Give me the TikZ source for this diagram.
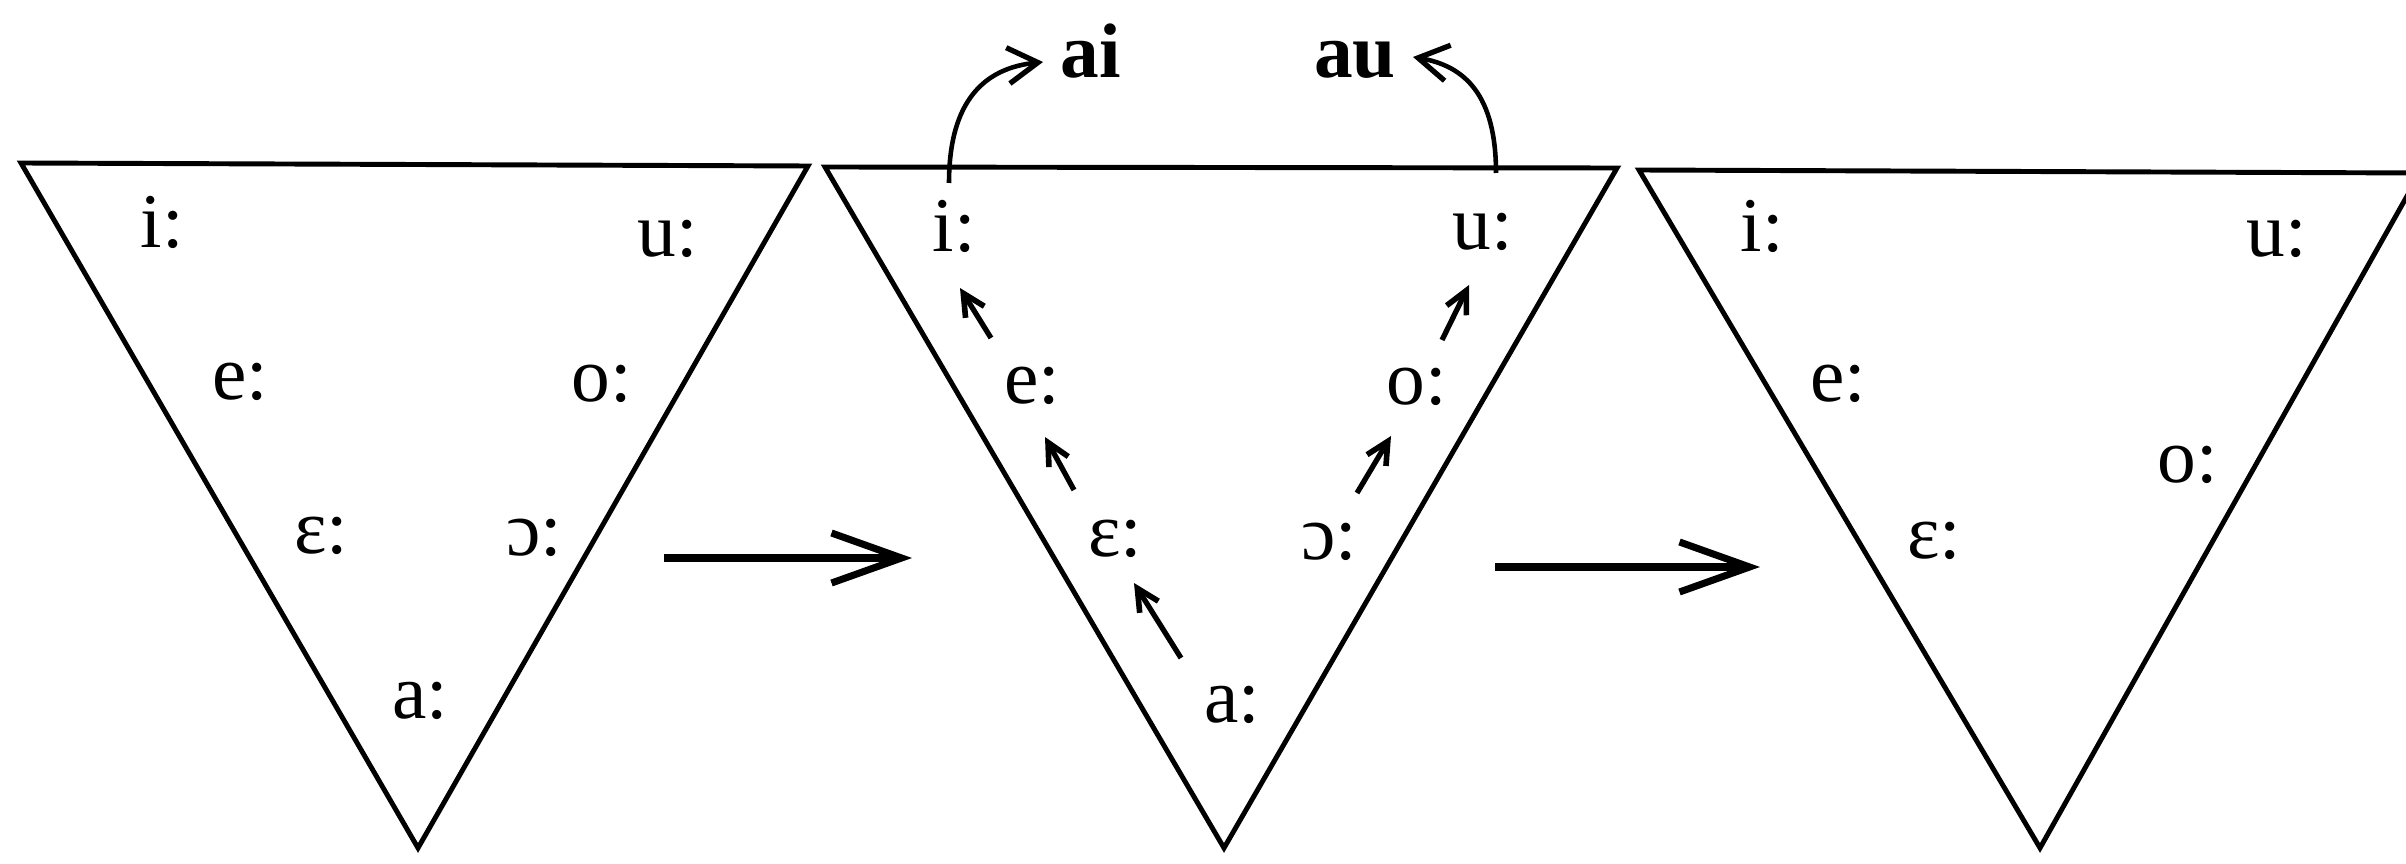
\documentclass[tikz,border=0pt]{standalone}
\usepackage{fontspec}
\setmainfont{Liberation Serif}
\usetikzlibrary{arrows.meta}
\begin{document}
\begin{tikzpicture}[x=0.01cm,y=-0.01cm,
  vowel/.style={anchor=base,inner sep=0pt,font=\fontsize{22}{26}\selectfont},
  diph/.style={anchor=base,inner sep=0pt,font=\fontsize{22}{26}\selectfont\bfseries},
  tri/.style={line width=1.4pt,line join=miter},
  bigarrow/.style={line width=2pt,-{Straight Barb[length=0.7cm,width=0.5cm,line width=2pt]}},
  smallarrow/.style={line width=1.5pt,-{Straight Barb[length=0.22cm,width=0.22cm,line width=1.6pt]}},
  curvearrow/.style={line width=1.3pt,-{Straight Barb[length=0.3cm,width=0.36cm,line width=1.5pt]}}]
\useasboundingbox (0,0) rectangle (2406,864);
\clip (0,0) rectangle (2406,864);
% triangles
\coordinate (t1a) at (21,163); \coordinate (t1b) at (808,166); \coordinate (t1c) at (418,848);
\coordinate (t2a) at (825,167); \coordinate (t2b) at (1617,168); \coordinate (t2c) at (1224,848);
\coordinate (t3a) at (1639,170); \coordinate (t3b) at (2420,173); \coordinate (t3c) at (2040,848);
\draw[tri] (t1a) -- (t1b) -- (t1c) -- cycle;
\draw[tri] (t2a) -- (t2b) -- (t2c) -- cycle;
\draw[tri] (t3a) -- (t3b) -- (t3c) -- cycle;
% triangle 1 labels
\node[vowel] (t1i) at (162,248) {i:};
\node[vowel] (t1u) at (668,257) {u:};
\node[vowel] (t1e) at (240,400) {e:};
\node[vowel] (t1o) at (602,402) {o:};
\node[vowel] (t1E) at (321,553) {ɛ:};
\node[vowel] (t1O) at (534,555) {ɔ:};
\node[vowel] (t1aa) at (420,718) {a:};
% triangle 2 labels
\node[vowel] (t2i) at (954,252) {i:};
\node[vowel] (t2u) at (1483,250) {u:};
\node[vowel] (t2e) at (1032,403) {e:};
\node[vowel] (t2o) at (1417,405) {o:};
\node[vowel] (t2E) at (1115,557) {ɛ:};
\node[vowel] (t2O) at (1329,560) {ɔ:};
\node[vowel] (t2aa) at (1232,722) {a:};
% triangle 3 labels
\node[vowel] (t3i) at (1762,252) {i:};
\node[vowel] (t3u) at (2277,257) {u:};
\node[vowel] (t3e) at (1838,402) {e:};
\node[vowel] (t3o) at (2188,482) {o:};
\node[vowel] (t3E) at (1934,558) {ɛ:};
% diphthongs
\node[diph] (ai) at (1091,78) {ai};
\node[diph] (au) at (1355,78) {au};
% transition arrows
\coordinate (h1s) at (664,558); \coordinate (h1e) at (912,558);
\coordinate (h2s) at (1495,567); \coordinate (h2e) at (1760,567);
\draw[bigarrow] (h1s) -- (h1e);
\draw[bigarrow] (h2s) -- (h2e);
% small shift arrows
\coordinate (s1s) at (991,338); \coordinate (s1e) at (960,288);
\coordinate (s2s) at (1074,490); \coordinate (s2e) at (1045,437);
\coordinate (s3s) at (1181,658); \coordinate (s3e) at (1134,583);
\coordinate (s4s) at (1357,493); \coordinate (s4e) at (1391,436);
\coordinate (s5s) at (1442,340); \coordinate (s5e) at (1469,285);
\draw[smallarrow] (s1s) -- (s1e);
\draw[smallarrow] (s2s) -- (s2e);
\draw[smallarrow] (s3s) -- (s3e);
\draw[smallarrow] (s4s) -- (s4e);
\draw[smallarrow] (s5s) -- (s5e);
% diphthong arrows
\coordinate (c1s) at (949,183); \coordinate (c1e) at (1043,62);
\coordinate (c2s) at (1496,173); \coordinate (c2e) at (1413,57);
\draw[curvearrow] (c1s) .. controls (949,100) and (985,68) .. (c1e);
\draw[curvearrow] (c2s) .. controls (1496,95) and (1465,66) .. (c2e);
\end{tikzpicture}
\end{document}
